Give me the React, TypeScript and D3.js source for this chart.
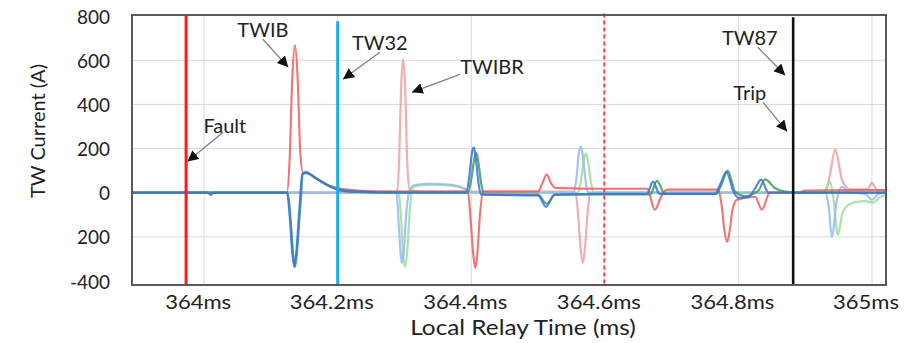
import React, { useEffect, useRef } from 'react';
import * as d3 from 'd3';

// time in ms, current in A
const localRed: [number, number][] = [
  [363.892, 0], [364.124, 0], [364.128, 150], [364.132, 520], [364.136, 668], [364.140, 520],
  [364.144, 180], [364.148, 90], [364.152, 95], [364.165, 70], [364.185, 35], [364.21, 15],
  [364.26, 6], [364.39, 5], [364.395, 0], [364.399, -120], [364.403, -280], [364.406, -341],
  [364.409, -280], [364.413, -100], [364.418, 5], [364.50, 5], [364.506, 40], [364.513, 82],
  [364.520, 40], [364.526, 22], [364.60, 18], [364.664, 18], [364.669, -30], [364.675, -77],
  [364.684, -20], [364.693, 14], [364.769, 14], [364.775, -60], [364.779, -170], [364.783, -223],
  [364.787, -170], [364.791, -80], [364.798, -32], [364.825, -18], [364.835, -77], [364.847, 0],
  [364.89, 0], [364.90, 10], [365.021, 12]
];
const localBlue: [number, number][] = [
  [363.892, 0], [364.005, 0], [364.01, -10], [364.015, 0], [364.124, 0], [364.128, -100],
  [364.132, -270], [364.135, -336], [364.138, -270], [364.143, -60], [364.147, 85], [364.152, 90],
  [364.17, 60], [364.19, 25], [364.22, 5], [364.30, 0], [364.392, 0], [364.397, 70],
  [364.401, 180], [364.404, 205], [364.407, 150], [364.411, 40], [364.415, -9], [364.50, -12],
  [364.512, -64], [364.524, -10], [364.60, -5], [364.663, -5], [364.672, 50], [364.682, -5],
  [364.765, -5], [364.773, 40], [364.782, 95], [364.792, 10], [364.80, -23], [364.815, -20],
  [364.825, 20], [364.834, 59], [364.845, 0], [364.89, 0], [365.021, 0]
];
const localGreen: [number, number][] = [
  [363.892, 0], [364.125, 0], [364.129, -100], [364.133, -270], [364.136, -336], [364.139, -270],
  [364.144, -60], [364.148, 85], [364.153, 90], [364.17, 62], [364.19, 28], [364.22, 6],
  [364.30, 0], [364.395, 0], [364.400, 60], [364.405, 160], [364.408, 180], [364.411, 130],
  [364.415, 40], [364.42, -8], [364.50, -10], [364.513, -50], [364.526, -8], [364.668, -8],
  [364.678, 54], [364.69, -5], [364.767, -5], [364.775, 40], [364.784, 100], [364.795, 5],
  [364.81, -15], [364.83, 10], [364.840, 60], [364.855, 20], [364.87, 5], [364.89, 0],
  [365.021, 0]
];
const remoteRed: [number, number][] = [
  [363.892, 0], [364.289, 0], [364.292, 150], [364.295, 480], [364.298, 605], [364.301, 480],
  [364.304, 150], [364.308, 10], [364.35, 5], [364.55, 5], [364.556, 0], [364.560, -100],
  [364.564, -260], [364.567, -318], [364.570, -260], [364.574, -100], [364.578, 0], [364.930, 0],
  [364.937, 80], [364.945, 195], [364.955, 60], [364.967, 15], [364.993, 15], [365.000, 45],
  [365.008, 12], [365.021, 10]
];
const remoteBlue: [number, number][] = [
  [363.892, 0], [364.288, 0], [364.291, -120], [364.294, -270], [364.296, -318], [364.299, -260],
  [364.303, -80], [364.309, 20], [364.315, 35], [364.34, 40], [364.37, 36], [364.39, 18],
  [364.40, 0], [364.553, 0], [364.558, 80], [364.561, 180], [364.564, 209], [364.567, 170],
  [364.571, 60], [364.575, 0], [364.930, 0], [364.935, -60], [364.940, -200], [364.947, -40],
  [364.955, 27], [364.965, 0], [364.99, -5], [365.0, -32], [365.01, -5], [365.021, 0]
];
const remoteGreen: [number, number][] = [
  [363.892, 0], [364.291, 0], [364.295, -120], [364.298, -280], [364.301, -336], [364.304, -270],
  [364.308, -80], [364.312, 20], [364.32, 32], [364.34, 36], [364.37, 32], [364.39, 18],
  [364.40, 0], [364.560, 0], [364.565, 70], [364.569, 155], [364.572, 177], [364.575, 140],
  [364.579, 50], [364.584, 0], [364.928, 0], [364.933, 30], [364.937, 50], [364.942, -20],
  [364.949, -190], [364.956, -90], [364.965, -55], [364.978, -41], [364.99, -38], [365.001, -45],
  [365.012, -20], [365.021, -10]
];

const xTicks = [364, 364.2, 364.4, 364.6, 364.8, 365];
const xTickLabels = ['364ms', '364.2ms', '364.4ms', '364.6ms', '364.8ms', '365ms'];
const yTicks = [800, 600, 400, 200, 0, -200, -400];
const yTickLabels = ['800', '600', '400', '200', '0', '200', '-400'];

const markers = [
  { name: 'Fault', t: 363.973, top: 805 },
  { name: 'TW32', t: 364.2, top: 777 },
  { name: 'Dashed', t: 364.599, top: 812 },
  { name: 'TW87', t: 364.882, top: 795 }
];

const notes = [
  { label: 'Fault', t: 364.031, v: 309, from: [364.028, 273], to: [363.975, 141] },
  { label: 'TWIB', t: 364.088, v: 741, from: [364.088, 695], to: [364.126, 568] },
  { label: 'TW32', t: 364.263, v: 682, from: [364.263, 636], to: [364.208, 514] },
  { label: 'TWIBR', t: 364.431, v: 573, from: [364.383, 536], to: [364.311, 455] },
  { label: 'TW87', t: 364.817, v: 705, from: [364.829, 659], to: [364.870, 532] },
  { label: 'Trip', t: 364.817, v: 455, from: [364.837, 409], to: [364.873, 277] }
];

const FONT = 'Lato, "Open Sans", sans-serif';

const App = () => {
  const ref = useRef<SVGSVGElement>(null);

  useEffect(() => {
    const svg = d3.select(ref.current!);
    svg.selectAll('*').remove();

    const left = 132, right = 886, top = 15, bottom = 285;
    const x = d3.scaleLinear().domain([363.892, 365.021]).range([left, right]);
    const y = d3.scaleLinear().domain([-418, 805]).range([bottom, top]);

    const defs = svg.append('defs');
    defs.append('clipPath').attr('id', 'plot-clip')
      .append('rect').attr('x', left).attr('y', top).attr('width', right - left).attr('height', bottom - top);
    defs.append('marker')
      .attr('id', 'arrow')
      .attr('viewBox', '0 0 10 10')
      .attr('refX', 10).attr('refY', 5)
      .attr('markerWidth', 11).attr('markerHeight', 11)
      .attr('markerUnits', 'userSpaceOnUse')
      .attr('orient', 'auto')
      .append('path').attr('d', 'M0,0 L10,5 L0,10 Z').attr('fill', '#111');

    // grid
    const grid = svg.append('g').attr('stroke', '#d9d9d9').attr('stroke-width', 1);
    grid.selectAll('.gx').data(xTicks).enter().append('line')
      .attr('x1', d => x(d)).attr('x2', d => x(d)).attr('y1', top).attr('y2', bottom);
    grid.selectAll('.gy').data(yTicks.filter(d => d !== 800 && d !== 0 && d !== -400)).enter().append('line')
      .attr('x1', left).attr('x2', right).attr('y1', d => y(d)).attr('y2', d => y(d));

    // traces
    const line = d3.line<[number, number]>()
      .x(d => x(d[0])).y(d => y(d[1]))
      .curve(d3.curveMonotoneX);
    const series = [
      { data: remoteRed, color: '#eea0a0', width: 2.2 },
      { data: remoteGreen, color: '#9ade98', width: 2.2 },
      { data: remoteBlue, color: '#94b8f4', width: 2.2 },
      { data: localRed, color: '#f05a5a', width: 2.1 },
      { data: localGreen, color: '#3c9e50', width: 2.2 },
      { data: localBlue, color: '#3474e0', width: 2.2 }
    ];
    const traces = svg.append('g').attr('clip-path', 'url(#plot-clip)');
    traces.selectAll('path').data(series).enter().append('path')
      .attr('d', d => line(d.data))
      .attr('fill', 'none')
      .attr('stroke', d => d.color)
      .attr('stroke-width', d => d.width)
      .attr('stroke-opacity', 0.85)
      .attr('stroke-linejoin', 'round');

    // event markers
    const mk = svg.append('g');
    const style: Record<string, { color: string; w: number; dash?: string }> = {
      Fault: { color: '#ff1a1a', w: 3 },
      TW32: { color: '#12aef0', w: 3 },
      Dashed: { color: '#ff3030', w: 1.6, dash: '4,3' },
      TW87: { color: '#111111', w: 2.6 }
    };
    markers.forEach(m => {
      const s = style[m.name];
      mk.append('line')
        .attr('x1', x(m.t)).attr('x2', x(m.t))
        .attr('y1', y(m.top)).attr('y2', bottom)
        .attr('stroke', s.color).attr('stroke-width', s.w)
        .attr('stroke-dasharray', s.dash || null);
    });

    // plot border
    svg.append('rect')
      .attr('x', left).attr('y', top).attr('width', right - left).attr('height', bottom - top)
      .attr('fill', 'none').attr('stroke', '#595959').attr('stroke-width', 2);

    // annotations
    const ann = svg.append('g');
    notes.forEach(n => {
      ann.append('line')
        .attr('x1', x(n.from[0])).attr('y1', y(n.from[1]))
        .attr('x2', x(n.to[0])).attr('y2', y(n.to[1]))
        .attr('stroke', '#7f7f7f').attr('stroke-width', 1.3)
        .attr('marker-end', 'url(#arrow)');
      ann.append('text')
        .attr('x', x(n.t)).attr('y', y(n.v))
        .attr('text-anchor', 'middle').attr('dominant-baseline', 'central')
        .attr('font-family', FONT).attr('font-size', 20).attr('fill', '#222')
        .text(n.label);
    });

    // axis labels (the source figure is stretched horizontally a bit)
    svg.append('g').selectAll('text').data(xTicks).enter().append('text')
      .attr('transform', d => `translate(${x(d) - 6},302) scale(1.16,1)`)
      .attr('text-anchor', 'middle').attr('dominant-baseline', 'central')
      .attr('font-family', FONT).attr('font-size', 19).attr('fill', '#222')
      .text((d, i) => xTickLabels[i]);
    svg.append('g').selectAll('text').data(yTicks).enter().append('text')
      .attr('x', 110).attr('y', d => y(d))
      .attr('text-anchor', 'end').attr('dominant-baseline', 'central')
      .attr('font-family', FONT).attr('font-size', 19).attr('fill', '#222')
      .text((d, i) => yTickLabels[i]);

    svg.append('text')
      .attr('transform', 'translate(523,327) scale(1.16,1)')
      .attr('text-anchor', 'middle').attr('dominant-baseline', 'central')
      .attr('font-family', FONT).attr('font-size', 21).attr('fill', '#222')
      .text('Local Relay Time (ms)');
    svg.append('text')
      .attr('transform', 'translate(37,131) rotate(-90)')
      .attr('text-anchor', 'middle').attr('dominant-baseline', 'central')
      .attr('font-family', FONT).attr('font-size', 20).attr('fill', '#222')
      .text('TW Current (A)');
  }, []);

  return (
    <svg
      ref={ref}
      width={907}
      height={343}
      style={{ position: 'absolute', left: 0, top: 0, background: '#fff' }}
    />
  );
};

export default App;
